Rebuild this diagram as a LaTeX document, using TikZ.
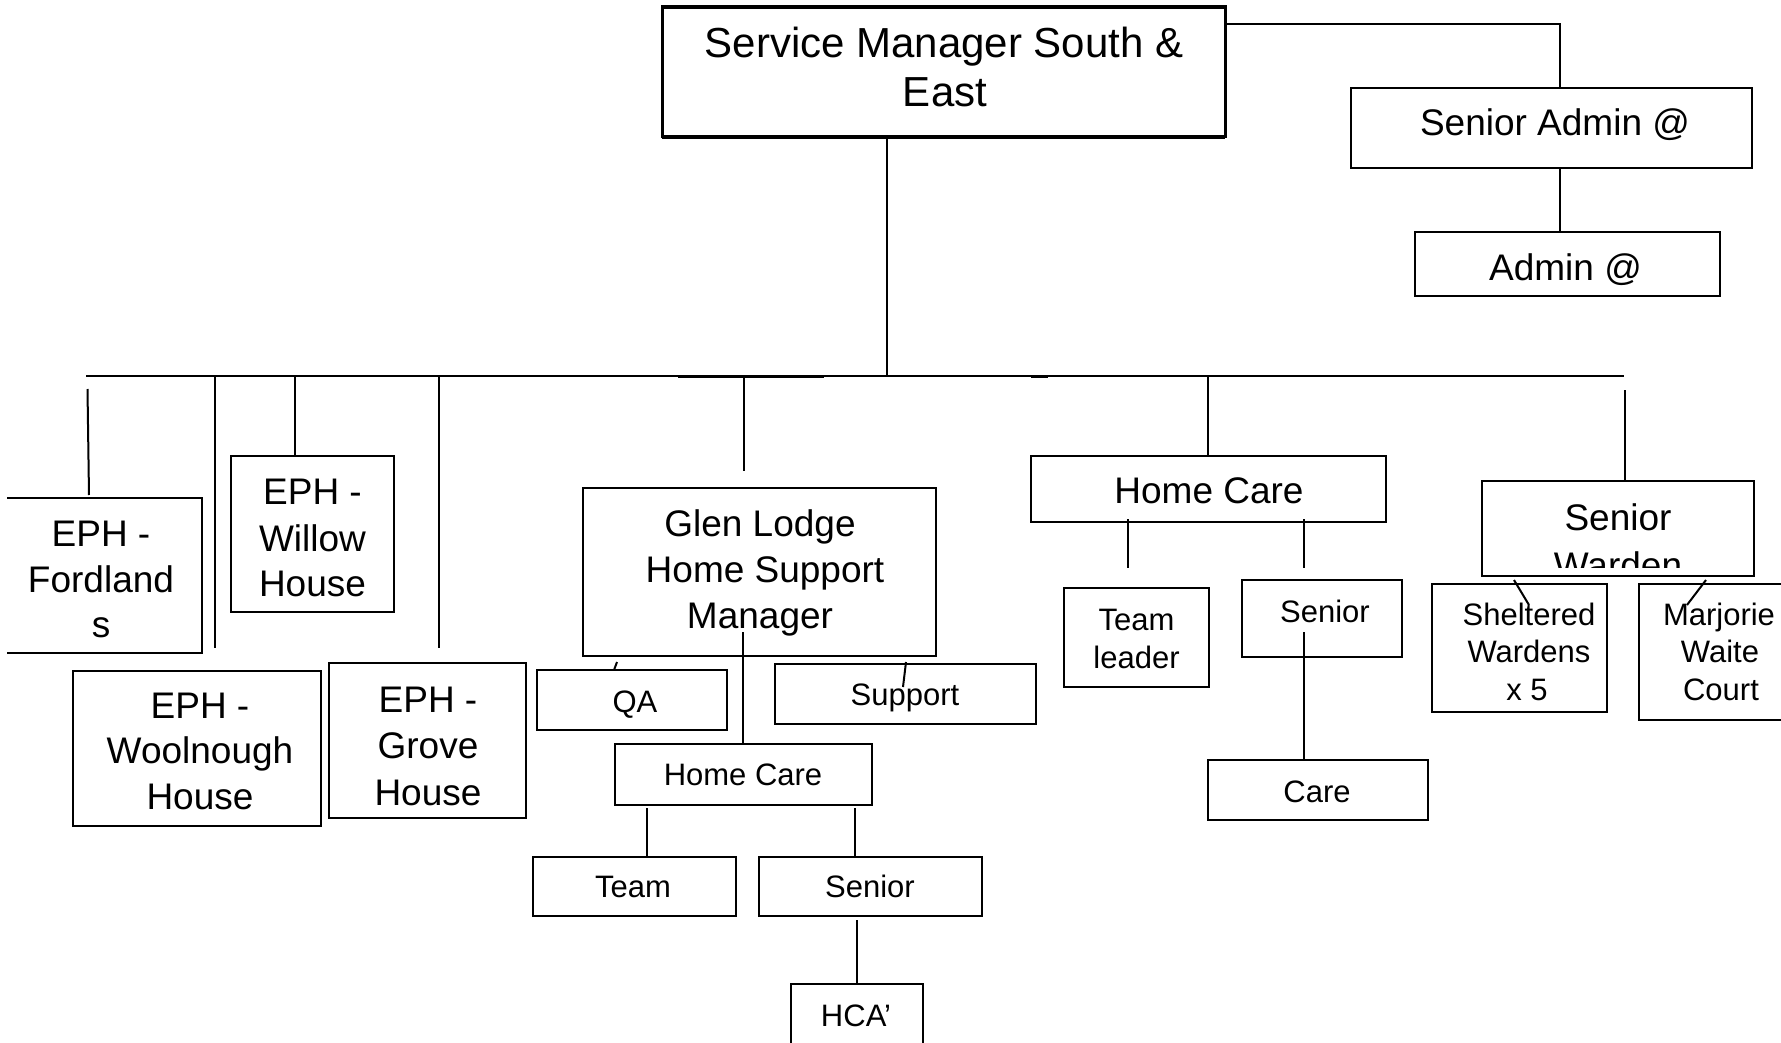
\documentclass[tikz,border=0pt]{standalone}
\usepackage{fontspec}
\setmainfont{Liberation Sans}
\usetikzlibrary{calc}
\newcommand\boxnode[5]{\node[box, minimum width={(#4)-(#2)}, minimum height={(#5)-(#3)}] (#1) at ({((#2)+(#4))/2},{((#3)+(#5))/2}) {};}
\tikzset{
  box/.style={draw, rectangle, line width=2pt, inner sep=0pt, outer sep=0pt},
  ln/.style={line width=2pt},
  busthick/.style={line width=3pt},
  txt/.style={inner sep=0pt, anchor=base},
  big/.style={txt, font=\fontsize{42}{49}\selectfont},
  mid/.style={txt, font=\fontsize{37}{44}\selectfont},
  sml/.style={txt, font=\fontsize{31}{37}\selectfont},
}
\begin{document}
\begin{tikzpicture}[x=1pt,y=-1pt]
\useasboundingbox[fill=white] (0,0) rectangle (1781,1043);
\clip (0,0) rectangle (1781,1043);

% ---------- boxes ----------
\boxnode{smgr}{662}{7}{1225}{137}
\boxnode{sadmin}{1351}{88}{1752}{168}
\boxnode{admin}{1415}{232}{1720}{296}
\node[box, draw=none, minimum width=195, minimum height=155] (fordlands) at (104.5,575.5) {};
\boxnode{willow}{231}{456}{394}{612}
\boxnode{woolnough}{73}{671}{321}{826}
\boxnode{grove}{329}{663}{526}{818}
\boxnode{glen}{583}{488}{936}{656}
\boxnode{qa}{537}{670}{727}{730}
\boxnode{support}{775}{664}{1036}{724}
\boxnode{hcglen}{615}{744}{872}{805}
\boxnode{team}{533}{857}{736}{916}
\boxnode{senior1}{759}{857}{982}{916}
\boxnode{hca}{791}{984}{923}{1070}
\boxnode{homecare}{1031}{456}{1386}{522}
\boxnode{teamleader}{1064}{588}{1209}{687}
\boxnode{senior2}{1242}{580}{1402}{657}
\boxnode{care}{1208}{760}{1428}{820}
\boxnode{swarden}{1482}{481}{1754}{576}
\boxnode{sheltered}{1432}{584}{1607}{712}
\boxnode{marjorie}{1639}{584}{1810}{720}

% top box: heavier frame
\draw[line width=3pt] (smgr.north west) rectangle (smgr.south east);
\draw[line width=4.5pt] (smgr.north west) -- (smgr.north east);
\draw[line width=4.5pt] (smgr.south west) -- (smgr.south east);
% Fordlands box, left side off the page
\draw[ln] (fordlands.north west) -| (fordlands.south east) -- (fordlands.south west);

% ---------- texts ----------
\node[big] (smgr-1) at (944,58) {Service Manager South \&};
\node[big] (smgr-2) at (945,107) {East};
\node[mid] (sadmin-1) at (1555,136) {Senior Admin @};
\node[mid] (admin-1) at (1565.5,280) {Admin @};

\node[mid] (ford-1) at (101,546) {EPH -};
\node[mid] (ford-2) at (101,592) {Fordland};
\node[mid] (ford-3) at (101,637) {s};
\node[mid] (willow-1) at (312.5,504) {EPH -};
\node[mid] (willow-2) at (312.5,551) {Willow};
\node[mid] (willow-3) at (312.5,596) {House};
\node[mid] (wool-1) at (200,718) {EPH -};
\node[mid] (wool-2) at (200,763) {Woolnough};
\node[mid] (wool-3) at (200,809) {House};
\node[mid] (grove-1) at (428,712) {EPH -};
\node[mid] (grove-2) at (428,758) {Grove};
\node[mid] (grove-3) at (428,805) {House};

\node[mid] (glen-1) at (760,536) {Glen Lodge};
\node[mid] (glen-2) at (765,582) {Home Support};
\node[mid] (glen-3) at (760,628) {Manager};
\node[sml] (qa-1) at (635,712) {QA};
\node[sml] (support-1) at (905,705) {Support};
\node[sml] (hcglen-1) at (743,785) {Home Care};
\node[sml] (team-1) at (633,897) {Team};
\node[sml] (senior1-1) at (870,897) {Senior};
\node[sml] (hca-1) at (856,1026) {HCA’};

\node[mid] (homecare-1) at (1209,503) {Home Care};
\node[sml] (teamleader-1) at (1136.5,630) {Team};
\node[sml] (teamleader-2) at (1136.5,668) {leader};
\node[sml] (senior2-1) at (1325,622) {Senior};
\node[sml] (care-1) at (1317,802) {Care};

\node[mid] (swarden-1) at (1618,530) {Senior};
\begin{scope}
  \clip (1482,481) rectangle (1754,567);
  \node[mid] (swarden-2) at (1618,578) {Warden};
\end{scope}
\node[sml] (shelt-1) at (1529,625) {Sheltered};
\node[sml] (shelt-2) at (1529,662) {Wardens};
\node[sml] (shelt-3) at (1527,700) {x 5};
\node[sml] (marj-1) at (1719,625) {Marjorie};
\node[sml] (marj-2) at (1720,662) {Waite};
\node[sml] (marj-3) at (1721,700) {Court};

% ---------- connectors ----------
\coordinate (busL) at (86,376);
\coordinate (busR) at (1624,376);
\draw[ln] (busL) -- (busR);
\draw[busthick] (678,376) -- (824,376);
\draw[busthick] (1031,376) -- (1048,376);

\coordinate (mv) at (887,376);
\draw[ln] (mv |- smgr.south) -- (mv);

\draw[ln] ($(smgr.north east)+(0,17)$) -| ($(sadmin.north)+(8.5,0)$);
\draw[ln] ($(sadmin.south)+(8.5,0)$) -- ($(admin.north)+(-7.5,0)$);

\coordinate (d-ford) at (87.5,389);
\draw[ln] (d-ford) -- ($(fordlands.north west)+(82,-3)$);
\coordinate (b-wool) at (215,376);
\draw[ln] (b-wool) -- ($(b-wool |- woolnough.north)+(0,-23)$);
\coordinate (b-willow) at (295,376);
\draw[ln] (b-willow) -- (b-willow |- willow.north);
\coordinate (b-grove) at (439,376);
\draw[ln] (b-grove) -- ($(b-grove |- grove.north)+(0,-15)$);
\coordinate (b-glen) at (743.5,376);
\draw[ln] (b-glen) -- ($(b-glen |- glen.north)+(0,-17)$);
\coordinate (b-hc) at (1208,376);
\draw[ln] (b-hc) -- (b-hc |- homecare.north);
\coordinate (d-sw) at (1625,390);
\draw[ln] (d-sw) -- (d-sw |- swarden.north);

% Glen Lodge subtree
\coordinate (g-in) at (743,632);
\draw[ln] (g-in) -- (g-in |- hcglen.north);
\draw[ln] ($(qa.north west)+(80,-8)$) -- ($(qa.north west)+(77,0)$);
\draw[ln] ($(support.north west)+(131,-2)$) -- ($(support.north west)+(128,23)$);
\draw[ln] ($(hcglen.south west)+(32,3)$) -- ($(team.north west)+(114,0)$);
\draw[ln] ($(hcglen.south west)+(240,3)$) -- ($(senior1.north west)+(96,0)$);
\draw[ln] ($(senior1.south west)+(98,4)$) -- ($(hca.north west)+(66,0)$);

% Home Care subtree
\draw[ln] ($(homecare.south west)+(97,-3)$) -- ($(homecare.south west)+(97,46)$);
\draw[ln] ($(homecare.south west)+(273,-3)$) -- ($(homecare.south west)+(273,46)$);
\draw[ln] ($(senior2.north west)+(62,52)$) -- ($(care.north west)+(96,0)$);

% Senior Warden subtree
\draw[ln] ($(swarden.south west)+(32,4)$) -- ($(sheltered.north west)+(97,21)$);
\draw[ln] ($(swarden.south west)+(224,4)$) -- ($(marjorie.north west)+(48,21)$);
\end{tikzpicture}
\end{document}
